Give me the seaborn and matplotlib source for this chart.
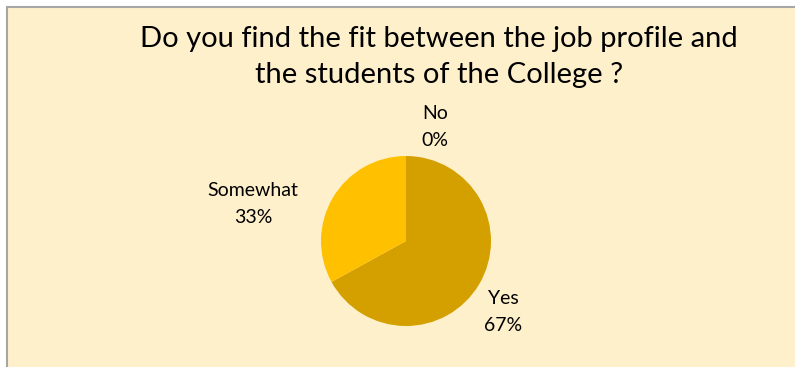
"""Pie chart: fit between job profile and students of the College."""

import matplotlib

matplotlib.use("Agg")
import matplotlib.pyplot as plt
import seaborn as sns
from matplotlib.patches import Rectangle

LABELS = ["Yes", "Somewhat", "No"]
SHARES = [67, 33, 0]
COLORS = ["#D4A000", "#FFC000", "#F5B800"]
TITLE = "Do you find the fit between the job profile and\nthe students of the College ?"

W, H = 795, 367
CENTER = (406, 241)
RADIUS = 85
# label centres in pixels
LABEL_POS = {"Yes": (503, 312), "Somewhat": (253, 204), "No": (435, 127)}

sns.set_theme(style="white")
plt.rcParams["font.family"] = ["Lato", "DejaVu Sans"]

fig = plt.figure(figsize=(W / 100, H / 100), dpi=100, facecolor="white")

# chart area background with border on left/top
fig.patches.append(Rectangle((6.5 / W, -0.1), 1.2, (H - 7.5) / H + 0.1,
                             transform=fig.transFigure, facecolor="#FFF0CC",
                             edgecolor="#A6A6A6", linewidth=1.5, zorder=-5))

ax = fig.add_axes([(CENTER[0] - RADIUS) / W, (H - CENTER[1] - RADIUS) / H,
                   2 * RADIUS / W, 2 * RADIUS / H], zorder=2)
ax.set_facecolor("none")
ax.pie(SHARES, colors=COLORS, startangle=90, counterclock=False, radius=1,
       wedgeprops={"linewidth": 0})
ax.set_xlim(-1, 1)
ax.set_ylim(-1, 1)
ax.set_aspect("equal")
ax.axis("off")

for name, share in zip(LABELS, SHARES):
    x, y = LABEL_POS[name]
    fig.text(x / W, 1 - y / H, f"{name}\n{share}%", ha="center", va="center",
             fontsize=14, linespacing=1.65, color="#000000", zorder=3)

fig.text(439 / W, 1 - 57 / H, TITLE, ha="center", va="center", fontsize=21,
         linespacing=1.5, color="#000000", zorder=3)

fig.savefig("out.png", dpi=100, facecolor="white")
